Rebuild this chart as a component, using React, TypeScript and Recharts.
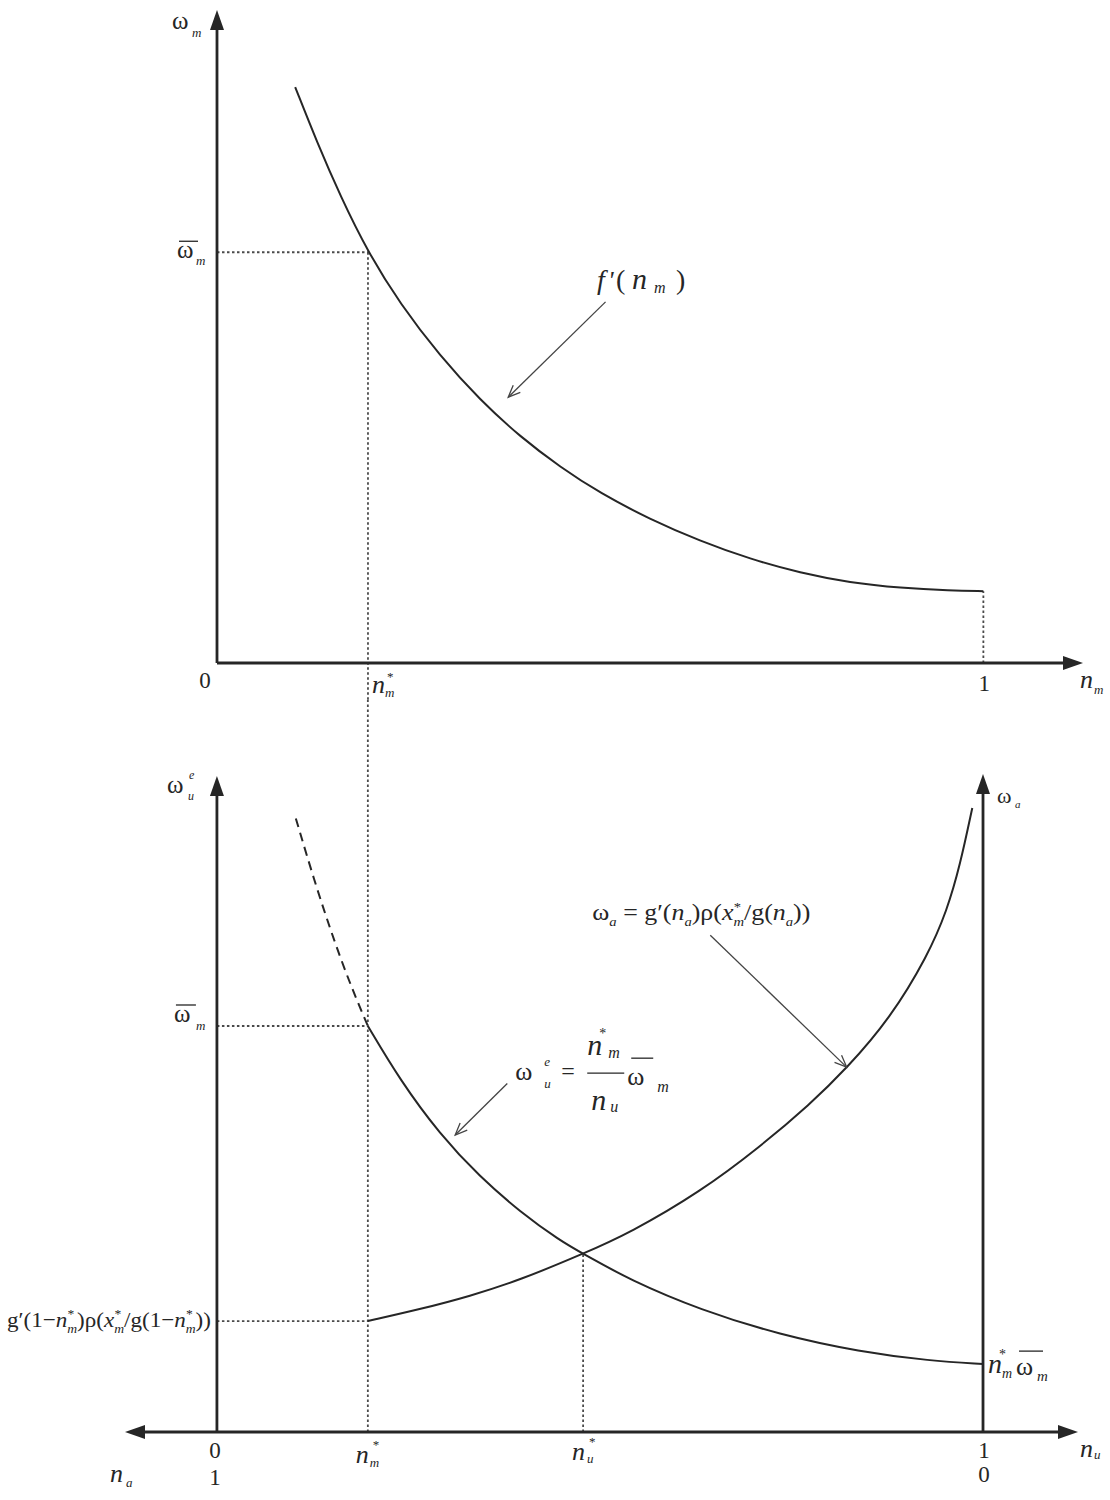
import { LineChart, Line, XAxis, YAxis, ReferenceLine, ReferenceDot } from "recharts";

const FONT = "'Liberation Serif', 'Times New Roman', serif";
const INK = "#262626";
const GUIDE = "#4a4a4a";

// Key values (n on the horizontal, wage on the vertical).
const NM_STAR = 0.197;
const NU_STAR = 0.478;
const W_BAR_TOP = 6.29;
const W_BAR_BOT = 6.22;
const F_AT_ONE = 1.1;
const G_AT_NM = 1.7;
const W_CROSS = 2.73;
const NM_WBAR = 1.04;

// top panel: f'(n_m)
const TOP_N = [0.102, 0.131, 0.161, 0.197, 0.239, 0.291, 0.343, 0.396, 0.448, 0.5, 0.565, 0.63, 0.696, 0.761, 0.826, 0.892, 0.957, 1.0];
const TOP_W = [8.82, 7.96, 7.15, 6.29, 5.5, 4.7, 4.03, 3.46, 3.0, 2.6, 2.2, 1.87, 1.59, 1.38, 1.23, 1.15, 1.11, 1.1];

// bottom panel: omega_u^e, dashed part left of n_m*, solid part right of it
const WE_DASH_N = [0.103, 0.128, 0.154, 0.176, 0.197];
const WE_DASH_W = [9.4, 8.41, 7.49, 6.8, 6.22];
const WE_SOLID_N = [0.197, 0.239, 0.291, 0.343, 0.396, 0.448, 0.478, 0.539, 0.631, 0.735, 0.839, 0.931, 1.0];
const WE_SOLID_W = [6.22, 5.39, 4.56, 3.91, 3.37, 2.93, 2.73, 2.33, 1.87, 1.49, 1.23, 1.09, 1.04];

// bottom panel: omega_a
const WA_N = [0.197, 0.265, 0.33, 0.396, 0.478, 0.539, 0.631, 0.709, 0.774, 0.822, 0.879, 0.928, 0.953, 0.97, 0.986];
const WA_W = [1.7, 1.88, 2.08, 2.33, 2.73, 3.05, 3.68, 4.37, 5.02, 5.57, 6.34, 7.3, 7.99, 8.68, 9.56];

const rows = (xs: number[], ys: number[]) => xs.map((n, i) => ({ n, w: ys[i] }));

type Run = { t: string; x: number; y: number; size: number; it?: boolean; anchor?: "start" | "middle" | "end" };
type Bar = { x1: number; x2: number; y: number };
type Tok = { t: string; it?: boolean; sub?: string; sup?: string };
type LabelSpec = {
  runs?: Run[];
  bars?: Bar[];
  math?: { toks: Tok[]; x: number; y: number; size: number; len?: number; anchor?: "start" | "end" };
};

function mathSpans(toks: Tok[], size: number) {
  const small = Math.round(size * 0.58);
  const out: any[] = [];
  let shift = 0;
  let pend = 0;
  toks.forEach((k, i) => {
    out.push(
      <tspan key={i + "t"} dx={pend || undefined} dy={shift ? -shift : undefined} fontStyle={k.it ? "italic" : "normal"} fontSize={size}>
        {k.t}
      </tspan>
    );
    shift = 0;
    pend = 0;
    if (k.sub) {
      const d = size * 0.25;
      out.push(
        <tspan key={i + "b"} dy={d} fontStyle="italic" fontSize={small}>
          {k.sub}
        </tspan>
      );
      shift = d;
    }
    if (k.sup) {
      const d = -size * 0.42;
      const back = k.sub ? small * 0.7 * k.sub.length : 0;
      out.push(
        <tspan key={i + "p"} dx={back ? -back : undefined} dy={d - shift} fontSize={small}>
          {k.sup}
        </tspan>
      );
      shift = d;
      pend = k.sub ? Math.max(0, back - small * 0.5) : 0;
    }
  });
  return out;
}

const labelShape = (spec: LabelSpec) => (p: any) => {
  const cx = p.cx;
  const cy = p.cy;
  return (
    <g fontFamily={FONT} fill={INK}>
      {(spec.runs ?? []).map((r, i) => (
        <text key={i} x={cx + r.x} y={cy + r.y} fontSize={r.size} fontStyle={r.it ? "italic" : "normal"} textAnchor={r.anchor ?? "start"}>
          {r.t}
        </text>
      ))}
      {(spec.bars ?? []).map((b, i) => (
        <line key={"bar" + i} x1={cx + b.x1} x2={cx + b.x2} y1={cy + b.y} y2={cy + b.y} stroke={INK} strokeWidth={1.3} />
      ))}
      {spec.math && (
        <text
          x={cx + spec.math.x}
          y={cy + spec.math.y}
          fontSize={spec.math.size}
          textAnchor={spec.math.anchor ?? "start"}
          textLength={spec.math.len}
          lengthAdjust="spacingAndGlyphs"
        >
          {mathSpans(spec.math.toks, spec.math.size)}
        </text>
      )}
    </g>
  );
};

const head = (x: number, y: number, a: number, len: number, half: number) => {
  const bx = x - len * Math.cos(a);
  const by = y - len * Math.sin(a);
  const px = -Math.sin(a) * half;
  const py = Math.cos(a) * half;
  return `${x},${y} ${bx + px},${by + py} ${bx - px},${by - py}`;
};

const axisShape = (both: boolean) => (p: any) => {
  const a = Math.atan2(p.y2 - p.y1, p.x2 - p.x1);
  const c = Math.cos(a) * 8;
  const s = Math.sin(a) * 8;
  return (
    <g>
      <line x1={both ? p.x1 + c : p.x1} y1={both ? p.y1 + s : p.y1} x2={p.x2 - c} y2={p.y2 - s} stroke={INK} strokeWidth={2.8} />
      <polygon points={head(p.x2, p.y2, a, 20, 7)} fill={INK} />
      {both && <polygon points={head(p.x1, p.y1, a + Math.PI, 20, 7)} fill={INK} />}
    </g>
  );
};

const pointerShape = (p: any) => {
  const a = Math.atan2(p.y2 - p.y1, p.x2 - p.x1);
  const L = 13;
  const sp = 0.4;
  const l1x = p.x2 - L * Math.cos(a - sp);
  const l1y = p.y2 - L * Math.sin(a - sp);
  const l2x = p.x2 - L * Math.cos(a + sp);
  const l2y = p.y2 - L * Math.sin(a + sp);
  return (
    <g stroke="#444" strokeWidth={1.3} fill="none">
      <line x1={p.x1} y1={p.y1} x2={p.x2} y2={p.y2} />
      <polyline points={`${l1x},${l1y} ${p.x2},${p.y2} ${l2x},${l2y}`} />
    </g>
  );
};

const dotted = { stroke: GUIDE, strokeWidth: 1.8, strokeDasharray: "2.5 2.5", ifOverflow: "visible" as const };

// ---------- label layouts (pixel offsets from their data anchors)
const TOP_LABELS: { x: number; y: number; spec: LabelSpec }[] = [
  {
    x: 0,
    y: 10,
    spec: {
      runs: [
        { t: "ω", x: -45, y: 19, size: 25 },
        { t: "m", x: -25, y: 27, size: 13, it: true },
      ],
    },
  },
  {
    x: 0,
    y: W_BAR_TOP,
    spec: {
      runs: [
        { t: "ω", x: -40, y: 6, size: 25 },
        { t: "m", x: -21, y: 13, size: 13, it: true },
      ],
      bars: [{ x1: -38, x2: -19, y: -11 }],
    },
  },
  { x: 0, y: 0, spec: { runs: [{ t: "0", x: -12, y: 25, size: 23, anchor: "middle" }] } },
  {
    x: NM_STAR,
    y: 0,
    spec: {
      runs: [
        { t: "n", x: 4, y: 30, size: 26, it: true },
        { t: "m", x: 17, y: 34, size: 13, it: true },
        { t: "*", x: 19, y: 18, size: 13 },
      ],
    },
  },
  { x: 1, y: 0, spec: { runs: [{ t: "1", x: 1, y: 28, size: 23, anchor: "middle" }] } },
  {
    x: 1.13,
    y: 0,
    spec: {
      runs: [
        { t: "n", x: -3, y: 25, size: 26, it: true },
        { t: "m", x: 11, y: 31, size: 13, it: true },
      ],
    },
  },
  {
    x: 0.496,
    y: 5.73,
    spec: {
      runs: [
        { t: "f", x: 0, y: 0, size: 28, it: true },
        { t: "'", x: 11, y: 0, size: 26, it: true },
        { t: "(", x: 19, y: 0, size: 28 },
        { t: "n", x: 35, y: 0, size: 30, it: true },
        { t: "m", x: 57, y: 4, size: 16, it: true },
        { t: ")", x: 79, y: 0, size: 28 },
      ],
    },
  },
];

const BOT_LABELS: { x: number; y: number; spec: LabelSpec }[] = [
  {
    x: 0,
    y: 10.05,
    spec: {
      runs: [
        { t: "ω", x: -50, y: 17, size: 25 },
        { t: "e", x: -28, y: 3, size: 12, it: true },
        { t: "u", x: -29, y: 24, size: 12, it: true },
      ],
    },
  },
  {
    x: 0,
    y: W_BAR_BOT,
    spec: {
      runs: [
        { t: "ω", x: -43, y: -4, size: 25 },
        { t: "m", x: -21, y: 4, size: 13, it: true },
      ],
      bars: [{ x1: -41, x2: -21, y: -21 }],
    },
  },
  {
    x: 0,
    y: G_AT_NM,
    spec: {
      math: {
        toks: [
          { t: "g′(1−" },
          { t: "n", it: true, sub: "m", sup: "*" },
          { t: ")ρ(" },
          { t: "x", it: true, sub: "m", sup: "*" },
          { t: "/g(1−" },
          { t: "n", it: true, sub: "m", sup: "*" },
          { t: "))" },
        ],
        x: -6,
        y: 6,
        size: 22,
        len: 204,
        anchor: "end",
      },
    },
  },
  {
    x: 0,
    y: 0,
    spec: {
      runs: [
        { t: "0", x: -2, y: 26, size: 23, anchor: "middle" },
        { t: "1", x: -2, y: 53, size: 23, anchor: "middle" },
      ],
    },
  },
  {
    x: -0.12,
    y: 0,
    spec: {
      runs: [
        { t: "n", x: -15, y: 50, size: 26, it: true },
        { t: "a", x: 1, y: 55, size: 13, it: true },
      ],
    },
  },
  {
    x: NM_STAR,
    y: 0,
    spec: {
      runs: [
        { t: "n", x: -12, y: 31, size: 26, it: true },
        { t: "m", x: 2, y: 35, size: 13, it: true },
        { t: "*", x: 5, y: 17, size: 13 },
      ],
    },
  },
  {
    x: NU_STAR,
    y: 0,
    spec: {
      runs: [
        { t: "n", x: -11, y: 28, size: 26, it: true },
        { t: "u", x: 4, y: 31, size: 13, it: true },
        { t: "*", x: 6, y: 14, size: 13 },
      ],
    },
  },
  {
    x: 1,
    y: 0,
    spec: {
      runs: [
        { t: "1", x: 1, y: 26, size: 23, anchor: "middle" },
        { t: "0", x: 1, y: 50, size: 23, anchor: "middle" },
      ],
    },
  },
  {
    x: 1.124,
    y: 0,
    spec: {
      runs: [
        { t: "n", x: 2, y: 25, size: 26, it: true },
        { t: "u", x: 16, y: 27, size: 13, it: true },
      ],
    },
  },
  {
    x: 1,
    y: 10.05,
    spec: {
      runs: [
        { t: "ω", x: 14, y: 27, size: 22 },
        { t: "a", x: 32, y: 32, size: 11, it: true },
      ],
    },
  },
  {
    x: 1,
    y: NM_WBAR,
    spec: {
      runs: [
        { t: "n", x: 5, y: 9, size: 28, it: true },
        { t: "m", x: 19, y: 14, size: 14, it: true },
        { t: "*", x: 16, y: -5, size: 14 },
        { t: "ω", x: 33, y: 11, size: 26 },
        { t: "m", x: 54, y: 17, size: 15, it: true },
      ],
      bars: [{ x1: 36, x2: 60, y: -13 }],
    },
  },
  {
    x: 0.49,
    y: 7.84,
    spec: {
      math: {
        toks: [
          { t: "ω", sub: "a" },
          { t: " = g′(" },
          { t: "n", it: true, sub: "a" },
          { t: ")ρ(" },
          { t: "x", it: true, sub: "m", sup: "*" },
          { t: "/g(" },
          { t: "n", it: true, sub: "a" },
          { t: "))" },
        ],
        x: 0,
        y: 0,
        size: 23,
        len: 218,
      },
    },
  },
  {
    x: 0.392,
    y: 5.39,
    spec: {
      runs: [
        { t: "ω", x: -2, y: 0, size: 26 },
        { t: "e", x: 27, y: -14, size: 13, it: true },
        { t: "u", x: 27, y: 8, size: 13, it: true },
        { t: "=", x: 44, y: -1, size: 24 },
        { t: "n", x: 70, y: -25, size: 30, it: true },
        { t: "*", x: 82, y: -42, size: 14 },
        { t: "m", x: 91, y: -22, size: 16, it: true },
        { t: "n", x: 74, y: 30, size: 30, it: true },
        { t: "u", x: 93, y: 32, size: 16, it: true },
        { t: "ω", x: 110, y: 5, size: 26 },
        { t: "m", x: 140, y: 12, size: 16, it: true },
      ],
      bars: [
        { x1: 70, x2: 107, y: -7 },
        { x1: 114, x2: 136, y: -22 },
      ],
    },
  },
];

function TopPanel() {
  return (
    <LineChart width={1110} height={700} margin={{ top: 10, right: 27, bottom: 37, left: 217 }}>
      <XAxis type="number" dataKey="n" domain={[0, 1.13]} allowDataOverflow hide />
      <YAxis type="number" domain={[0, 10]} allowDataOverflow hide />
      <ReferenceLine segment={[{ x: 0, y: W_BAR_TOP }, { x: NM_STAR, y: W_BAR_TOP }]} {...dotted} />
      <ReferenceLine segment={[{ x: NM_STAR, y: W_BAR_TOP }, { x: NM_STAR, y: -1.5 }]} {...dotted} />
      <ReferenceLine segment={[{ x: 1, y: 0 }, { x: 1, y: F_AT_ONE }]} {...dotted} />
      <Line
        data={rows(TOP_N, TOP_W)}
        dataKey="w"
        type="basis"
        stroke={INK}
        strokeWidth={2}
        dot={false}
        activeDot={false}
        isAnimationActive={false}
      />
      <ReferenceLine segment={[{ x: 0, y: 0 }, { x: 0, y: 10 }]} ifOverflow="visible" shape={axisShape(false)} />
      <ReferenceLine segment={[{ x: 0, y: 0 }, { x: 1.13, y: 0 }]} ifOverflow="visible" shape={axisShape(false)} />
      <ReferenceLine segment={[{ x: 0.507, y: 5.53 }, { x: 0.38, y: 4.07 }]} ifOverflow="visible" shape={pointerShape} />
      {TOP_LABELS.map((l, i) => (
        <ReferenceDot key={i} x={l.x} y={l.y} r={0} ifOverflow="visible" shape={labelShape(l.spec)} />
      ))}
    </LineChart>
  );
}

function BottomPanel() {
  return (
    <LineChart width={1110} height={800} margin={{ top: 76, right: 32, bottom: 68, left: 125 }}>
      <XAxis type="number" dataKey="n" domain={[-0.12, 1.124]} allowDataOverflow hide />
      <YAxis type="number" domain={[0, 10.05]} allowDataOverflow hide />
      <ReferenceLine segment={[{ x: NM_STAR, y: 0 }, { x: NM_STAR, y: 13 }]} {...dotted} />
      <ReferenceLine segment={[{ x: 0, y: W_BAR_BOT }, { x: NM_STAR, y: W_BAR_BOT }]} {...dotted} />
      <ReferenceLine segment={[{ x: 0, y: G_AT_NM }, { x: NM_STAR, y: G_AT_NM }]} {...dotted} />
      <ReferenceLine segment={[{ x: NU_STAR, y: 0 }, { x: NU_STAR, y: W_CROSS }]} {...dotted} />
      <Line
        data={rows(WE_DASH_N, WE_DASH_W)}
        dataKey="w"
        type="basis"
        stroke={INK}
        strokeWidth={2}
        strokeDasharray="9 6"
        dot={false}
        activeDot={false}
        isAnimationActive={false}
      />
      <Line
        data={rows(WE_SOLID_N, WE_SOLID_W)}
        dataKey="w"
        type="basis"
        stroke={INK}
        strokeWidth={2}
        dot={false}
        activeDot={false}
        isAnimationActive={false}
      />
      <Line
        data={rows(WA_N, WA_W)}
        dataKey="w"
        type="basis"
        stroke={INK}
        strokeWidth={2}
        dot={false}
        activeDot={false}
        isAnimationActive={false}
      />
      <ReferenceLine segment={[{ x: 0, y: 0 }, { x: 0, y: 10.05 }]} ifOverflow="visible" shape={axisShape(false)} />
      <ReferenceLine segment={[{ x: 1, y: 0 }, { x: 1, y: 10.08 }]} ifOverflow="visible" shape={axisShape(false)} />
      <ReferenceLine segment={[{ x: -0.12, y: 0 }, { x: 1.124, y: 0 }]} ifOverflow="visible" shape={axisShape(true)} />
      <ReferenceLine segment={[{ x: 0.644, y: 7.61 }, { x: 0.822, y: 5.59 }]} ifOverflow="visible" shape={pointerShape} />
      <ReferenceLine segment={[{ x: 0.379, y: 5.34 }, { x: 0.311, y: 4.55 }]} ifOverflow="visible" shape={pointerShape} />
      {BOT_LABELS.map((l, i) => (
        <ReferenceDot key={i} x={l.x} y={l.y} r={0} ifOverflow="visible" shape={labelShape(l.spec)} />
      ))}
    </LineChart>
  );
}

export default function App() {
  return (
    <div style={{ position: "absolute", left: 0, top: 0, width: 1110, height: 1500, background: "#fff", fontFamily: FONT }}>
      <div style={{ position: "absolute", left: 0, top: 0 }}>
        <TopPanel />
      </div>
      <div style={{ position: "absolute", left: 0, top: 700 }}>
        <BottomPanel />
      </div>
    </div>
  );
}
